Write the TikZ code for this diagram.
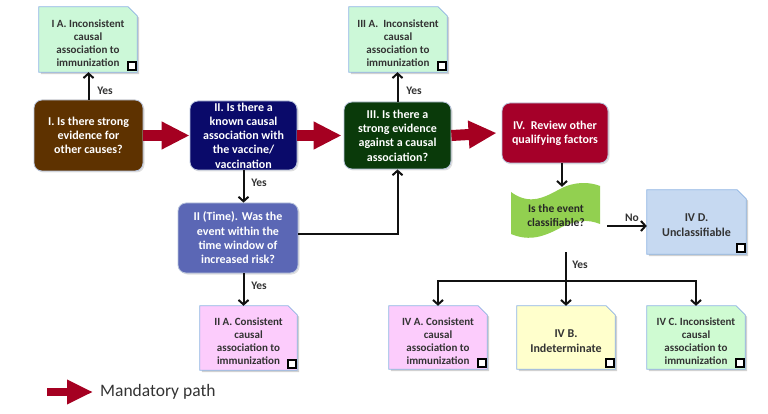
\documentclass[tikz,border=0pt]{standalone}
\usepackage{fontspec}
\setmainfont{Carlito}
\usetikzlibrary{arrows.meta,shadows}
\definecolor{cI}{HTML}{5E3200}
\definecolor{cII}{HTML}{0A0A6A}
\definecolor{cIIT}{HTML}{5B67B5}
\definecolor{cIII}{HTML}{0A3A0A}
\definecolor{cIV}{HTML}{A50029}
\definecolor{mainedge}{HTML}{B8C4DC}
\definecolor{boxedge}{HTML}{8EB4E3}
\definecolor{mint}{HTML}{CCF8D8}
\definecolor{mintb}{HTML}{CFFBD2}
\definecolor{pinkb}{HTML}{FCCCFC}
\definecolor{yellowb}{HTML}{FFFFCC}
\definecolor{blueb}{HTML}{C6D9F1}
\definecolor{wave}{HTML}{92D050}
\definecolor{redarr}{HTML}{A50021}
\definecolor{txt}{HTML}{333333}
\definecolor{arrc}{HTML}{111111}
\newcommand\foldbox[2]{%
  \fill[black,opacity=0.18] ([shift={(2,2)}]#1.south west) -- ([shift={(2,2)}]#1.north west) -- ([shift={(-7,2)}]#1.north east) -- ([shift={(2,11)}]#1.north east) -- ([shift={(2,2)}]#1.south east) -- cycle;
  \filldraw[fill=#2, draw=boxedge, line width=0.8pt] (#1.south west) -- (#1.north west) -- ([xshift=-9pt]#1.north east) -- ([shift={(0,9)}]#1.north east) -- (#1.south east) -- cycle;
  \draw[line width=1.8pt, draw=black, fill=white] ([shift={(-9,-10)}]#1.south east) rectangle ([shift={(-1,-2)}]#1.south east);
}
\begin{document}
\begin{tikzpicture}[x=1pt,y=-1pt,
  main/.style={rounded corners=8pt, draw=mainedge, line width=0.8pt, text=white,
    font=\bfseries\fontsize{12}{14.3}\selectfont, align=center, inner sep=0pt,
    drop shadow={shadow xshift=1.5pt, shadow yshift=-1.5pt, opacity=0.25}},
  fold/.style={inner sep=0pt, draw=none},
  btext/.style={font=\bfseries\fontsize{11}{13}\selectfont, text=txt, align=center, inner sep=0pt},
  bbig/.style={font=\bfseries\fontsize{12}{15}\selectfont, text=txt, align=center, inner sep=0pt},
  arr/.style={line width=2pt, draw=arrc, -{Straight Barb[length=4.5pt,width=10pt]}},
  lbl/.style={font=\bfseries\fontsize{11.5}{12}\selectfont, text=txt, inner sep=0pt},
  bigarrow/.style={line width=11pt, draw=redarr, -{Triangle[length=28pt,width=26pt]}}
]
\useasboundingbox (0,0) rectangle (768,414);

% main decision nodes
\node[main, fill=cI, minimum width=109pt, minimum height=71pt] (I) at (88.5,135.5) {I. Is there strong\\evidence for\\other causes?};
\node[main, fill=cII, minimum width=107pt, minimum height=69pt] (II) at (243.5,135.5) {II. Is there a\\known causal\\association with\\the vaccine/\\vaccination};
\node[main, fill=cIIT, minimum width=120pt, minimum height=70pt] (IIT) at (238,238) {II (Time). Was the\\event within the\\time window of\\increased risk?};
\node[main, fill=cIII, minimum width=107pt, minimum height=67pt] (III) at (397.5,135.5) {III. Is there a\\strong evidence\\against a causal\\association?};
\node[main, fill=cIV, minimum width=106pt, minimum height=60pt] (IV) at (555,133) {IV.\ \ Review other\\qualifying factors};

% outcome boxes
\node[fold, minimum width=98pt, minimum height=65pt] (IA) at (88,39.5) {};
\foldbox{IA}{mint}
\node[btext] (IAt) at (88,43) {I A. Inconsistent\\causal\\association to\\immunization};

\node[fold, minimum width=98pt, minimum height=65pt] (IIIA) at (398,39.5) {};
\foldbox{IIIA}{mint}
\node[btext] (IIIAt) at (398,43) {III A.\ \ Inconsistent\\causal\\association to\\immunization};

\node[fold, minimum width=97pt, minimum height=64pt] (IIA) at (248.5,338) {};
\foldbox{IIA}{pinkb}
\node[btext] (IIAt) at (248.5,341.5) {II A. Consistent\\causal\\association to\\immunization};

\node[fold, minimum width=98pt, minimum height=63pt] (IVA) at (438,337.5) {};
\foldbox{IVA}{pinkb}
\node[btext] (IVAt) at (438,341) {IV A. Consistent\\causal\\association to\\immunization};

\node[fold, minimum width=98pt, minimum height=63pt] (IVB) at (566,337.5) {};
\foldbox{IVB}{yellowb}
\node[bbig] (IVBt) at (566,341) {IV B.\\Indeterminate};

\node[fold, minimum width=98pt, minimum height=63pt] (IVC) at (696,337.5) {};
\foldbox{IVC}{mintb}
\node[btext] (IVCt) at (696,341) {IV C. Inconsistent\\causal\\association to\\immunization};

\node[fold, minimum width=99pt, minimum height=64pt] (IVD) at (696.5,222) {};
\foldbox{IVD}{blueb}
\node[bbig] (IVDt) at (696.5,225.5) {IV D.\\Unclassifiable};

% classifiable wave
\fill[wave] (511,192) .. controls (530,206) and (545,197) .. (560,189) .. controls (575,181) and (590,182) .. (600,186)
  -- (600,224) .. controls (588,219) and (575,220) .. (560,228) .. controls (545,236) and (530,242) .. (511,234) -- cycle;
\node[font=\bfseries\fontsize{11.5}{14}\selectfont, text=black!85, align=center, inner sep=0pt,
  minimum width=88pt, minimum height=58pt] (CL) at (556,216) {Is the event\\classifiable?};

% black connectors
\draw[arr] (I.north) -- (I.north |- IA.south);
\node[lbl] (y1) at (105,91) {Yes};
\draw[arr] (III.north) -- (III.north |- IIIA.south);
\node[lbl] (y2) at (414,91) {Yes};
\draw[arr] (II.south) -- (II.south |- IIT.north);
\node[lbl] (y3) at (259,183) {Yes};
\draw[arr] (II.south |- IIT.south) -- (II.south |- IIA.north);
\node[lbl] (y4) at (259,286) {Yes};
\draw[arr] ([yshift=4pt]IIT.east) -| (III.south);
\draw[arr] ([xshift=7pt]IV.south) -- ([xshift=7pt]IV.south |- CL.north);
\coordinate (ys) at (566,252);
\coordinate (split) at (566,281);
\draw[arr] (ys) -- (ys |- IVB.north);
\node[lbl] (y5) at (580,265) {Yes};
\draw[arr] (split) -| (IVA.north);
\draw[arr] (split) -| (IVC.north);
\coordinate (ns) at (607,226);
\draw[arr] (ns) -- (ns -| IVD.west);
\node[lbl] (no) at (632,218) {No};

% mandatory path arrows
\draw[bigarrow] (I.east) -- (II.west);
\draw[bigarrow] (II.east) -- ([xshift=-2pt]III.west);
\draw[bigarrow] (III.east) -- ([xshift=-5pt]IV.west);

% legend
\node[anchor=west, inner sep=0pt, text=txt, font=\fontsize{17.5}{20}\selectfont] (lg) at (100,392) {Mandatory path};
\coordinate (lgA) at (47,392);
\draw[line width=8pt, draw=redarr, -{Triangle[length=26pt,width=23pt]}] (lgA) -- ([xshift=-7pt]lg.west);
\end{tikzpicture}
\end{document}
